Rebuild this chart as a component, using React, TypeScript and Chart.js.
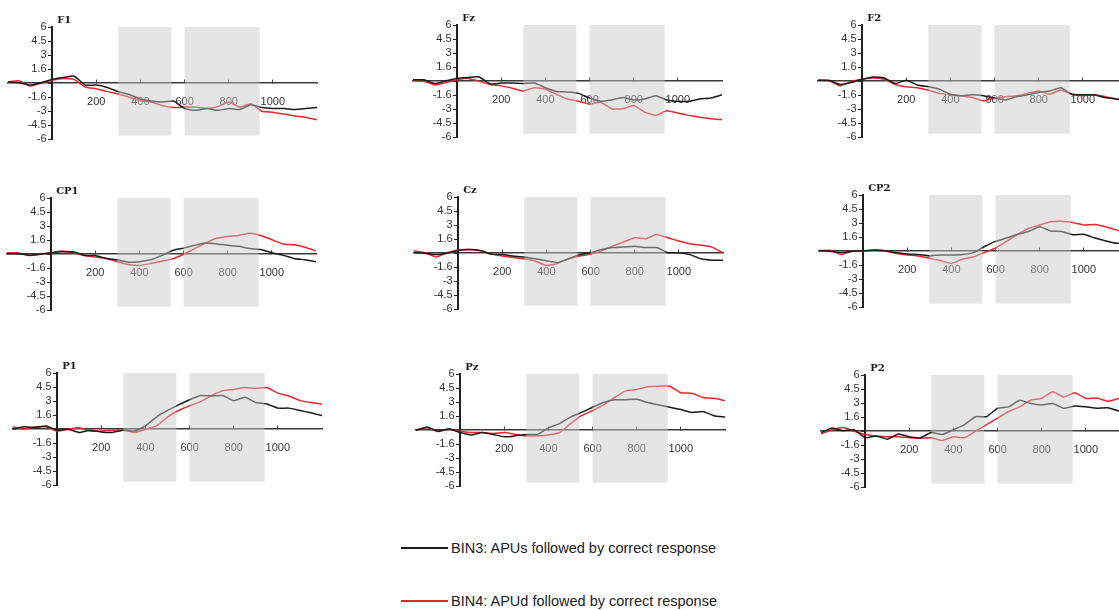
import React, { useEffect, useRef } from "react";
import { Chart, registerables } from "chart.js";

Chart.register(...registerables);

// ---------- DATA ----------
const times = [
  -200, -150, -100, -50, 0, 50, 100, 150, 200, 250, 300, 350, 400, 450, 500,
  550, 600, 650, 700, 750, 800, 850, 900, 950, 1000, 1050, 1100, 1150, 1200,
];

const seriesNames = [
  "BIN3: APUs followed by correct response",
  "BIN4: APUd followed by correct response",
];

const panelNames = ["F1", "Fz", "F2", "CP1", "Cz", "CP2", "P1", "Pz", "P2"];

const f1Bin3 = [0.1, 0.05, -0.2, 0.05, 0.4, 0.6, 0.75, -0.2, -0.2, -0.45, -0.9, -1.2, -1.7, -1.9, -2.0, -1.9, -2.7, -2.9, -2.7, -2.9, -2.7, -2.8, -2.3, -2.6, -2.7, -2.7, -2.8, -2.7, -2.6];
const f1Bin4 = [0.15, 0.25, -0.3, 0.0, 0.3, 0.5, 0.4, -0.4, -0.6, -0.9, -1.15, -1.5, -1.85, -2.0, -2.4, -2.6, -2.55, -2.55, -2.7, -2.5, -2.0, -2.55, -2.2, -3.0, -3.1, -3.3, -3.5, -3.65, -3.9];

const fzBin3 = [0.15, 0.15, -0.25, 0.05, 0.3, 0.4, 0.45, -0.3, -0.2, -0.2, -0.25, -0.2, -0.7, -1.1, -1.15, -1.3, -1.8, -2.15, -2.0, -1.75, -2.0, -1.9, -1.55, -2.0, -2.15, -2.15, -1.9, -1.8, -1.45];
const fzBin4 = [0.05, 0.0, -0.4, -0.15, 0.15, 0.3, 0.0, -0.35, -0.5, -0.75, -1.05, -0.7, -0.85, -1.4, -1.9, -2.15, -2.45, -2.25, -2.95, -2.95, -2.6, -3.3, -3.65, -3.15, -3.4, -3.65, -3.85, -4.0, -4.1];

const f2Bin3 = [0.1, 0.1, -0.35, -0.15, 0.2, 0.45, 0.35, -0.25, 0.1, -0.4, -0.6, -0.85, -1.4, -1.55, -1.45, -1.55, -1.8, -2.0, -1.65, -1.45, -1.2, -1.05, -0.7, -1.4, -1.45, -1.45, -1.75, -1.9, -2.1];
const f2Bin4 = [0.1, 0.05, -0.5, -0.05, 0.2, 0.35, 0.2, -0.35, -0.6, -0.7, -0.95, -1.3, -1.45, -1.55, -1.75, -2.1, -1.8, -1.65, -1.55, -1.3, -1.05, -1.4, -0.95, -1.4, -1.55, -1.45, -1.65, -1.9, -2.1];

const cp1Bin3 = [0.05, 0.05, -0.1, 0.0, 0.15, 0.25, 0.25, -0.1, -0.15, -0.45, -0.6, -0.85, -0.8, -0.6, -0.15, 0.4, 0.65, 0.95, 1.2, 1.1, 0.95, 0.85, 0.6, 0.5, 0.15, -0.1, -0.45, -0.6, -0.8];
const cp1Bin4 = [0.15, 0.15, -0.15, 0.0, 0.15, 0.35, 0.15, -0.15, -0.3, -0.45, -0.8, -1.1, -1.2, -1.0, -0.75, -0.5, 0.0, 0.6, 1.2, 1.7, 1.9, 2.0, 2.25, 2.0, 1.55, 1.1, 1.0, 0.75, 0.35];

const czBin3 = [0.05, 0.0, -0.15, 0.0, 0.3, 0.4, 0.3, -0.1, -0.15, -0.3, -0.4, -0.6, -0.8, -1.0, -0.6, -0.15, 0.05, 0.4, 0.6, 0.65, 0.75, 0.6, 0.6, 0.05, 0.05, -0.15, -0.6, -0.75, -0.75];
const czBin4 = [0.25, 0.05, -0.4, 0.05, 0.35, 0.4, 0.25, -0.1, -0.3, -0.45, -0.6, -0.85, -1.3, -1.1, -0.6, -0.3, -0.1, 0.25, 0.75, 1.2, 1.65, 1.55, 2.0, 1.65, 1.3, 1.0, 0.85, 0.65, 0.05];

const cp2Bin3 = [0.05, 0.0, -0.15, 0.0, 0.05, 0.1, 0.05, -0.15, -0.3, -0.35, -0.5, -0.4, -0.4, -0.35, -0.15, 0.5, 1.05, 1.4, 1.8, 2.1, 2.6, 2.15, 2.1, 1.75, 1.8, 1.4, 1.1, 0.85, 0.85];
const cp2Bin4 = [0.05, 0.1, -0.35, 0.0, 0.0, 0.15, 0.05, -0.25, -0.4, -0.5, -0.75, -1.0, -1.3, -0.85, -0.6, -0.15, 0.35, 1.05, 1.8, 2.45, 2.8, 3.15, 3.2, 3.05, 2.8, 2.85, 2.6, 2.25, 2.1];

const p1Bin3 = [0.0, 0.25, 0.15, 0.35, -0.1, 0.0, -0.35, -0.1, -0.3, -0.35, -0.1, -0.2, 0.35, 1.3, 2.0, 2.6, 3.15, 3.6, 3.55, 3.6, 3.05, 3.4, 2.85, 2.7, 2.25, 2.25, 2.0, 1.75, 1.45];
const p1Bin4 = [0.25, 0.0, 0.25, 0.25, -0.2, 0.0, 0.15, -0.2, -0.2, -0.1, -0.1, -0.35, 0.0, 0.35, 1.3, 2.0, 2.5, 2.95, 3.6, 4.1, 4.25, 4.45, 4.35, 4.45, 3.85, 3.55, 3.05, 2.85, 2.7];

const pzBin3 = [0.0, 0.35, -0.1, 0.15, -0.25, -0.5, -0.25, -0.45, -0.7, -0.6, -0.45, -0.45, 0.25, 0.7, 1.4, 1.9, 2.45, 2.95, 3.25, 3.25, 3.3, 2.95, 2.7, 2.45, 2.2, 1.9, 2.0, 1.55, 1.4];
const pzBin4 = [0.0, 0.25, -0.15, 0.1, -0.1, -0.25, -0.25, -0.35, -0.25, -0.45, -0.6, -0.6, -0.5, -0.25, 0.7, 1.55, 2.1, 2.7, 3.5, 4.2, 4.35, 4.65, 4.7, 4.7, 4.0, 3.95, 3.5, 3.4, 3.15];

const p2Bin3 = [-0.15, 0.35, 0.05, 0.15, -0.7, -0.5, -0.85, -0.3, -0.6, -0.7, -0.15, -0.35, 0.15, 0.7, 1.55, 1.55, 2.45, 2.6, 3.3, 2.95, 2.8, 2.95, 2.45, 2.7, 2.6, 2.45, 2.5, 2.15, 2.1];
const p2Bin4 = [-0.3, 0.15, 0.4, 0.0, -0.35, -0.5, -0.6, -0.6, -0.7, -0.75, -0.7, -1.0, -0.6, -0.7, 0.0, 0.7, 1.4, 2.1, 2.6, 3.3, 3.5, 4.2, 3.65, 4.1, 3.5, 3.55, 3.2, 3.5, 3.65];

const bin3Series = [f1Bin3, fzBin3, f2Bin3, cp1Bin3, czBin3, cp2Bin3, p1Bin3, pzBin3, p2Bin3];
const bin4Series = [f1Bin4, fzBin4, f2Bin4, cp1Bin4, czBin4, cp2Bin4, p1Bin4, pzBin4, p2Bin4];

const windowStarts = [300, 600];
const windowEnds = [540, 940];
const windowTop = 6;
const windowBottom = -5.6;

const xTickValues = [200, 400, 600, 800, 1000];
const xTickLabels = ["200", "400", "600", "800", "1000"];
const yTickValues = [-6, -4.5, -3, -1.5, 0, 1.5, 3, 4.5, 6];
const yTickLabels = ["-6", "-4.5", "-3", "-1.6", "", "1.6", "3", "4.5", "6"];

// ---------- LAYOUT ----------
const CANVAS_W = 317;
const CANVAS_H = 139;
const PAD = { top: 16, bottom: 8, left: 4, right: 4 };
const panelPos = [
  { left: 4, top: 11 },
  { left: 408.6, top: 8.5 },
  { left: 814.2, top: 8.5 },
  { left: 3.4, top: 181.5 },
  { left: 410.2, top: 181 },
  { left: 815.2, top: 179 },
  { left: 9.2, top: 357 },
  { left: 411.9, top: 357.5 },
  { left: 816.9, top: 358.5 },
];

const BLACK = "#1c1c1c";
const RED = "#e8262b";
const LABEL_GAP = "\u2002";

const decorPlugin = {
  id: "panelDecor",
  afterDatasetsDraw(chart: any, _args: any, opts: any) {
    const { ctx } = chart;
    const xs = chart.scales.x;
    const ys = chart.scales.y;
    ctx.save();
    ctx.fillStyle = "rgba(200,200,200,0.48)";
    const yA = ys.getPixelForValue(windowTop);
    const yB = ys.getPixelForValue(windowBottom);
    for (let i = 0; i < windowStarts.length; i++) {
      const xA = xs.getPixelForValue(windowStarts[i]);
      const xB = xs.getPixelForValue(windowEnds[i]);
      ctx.fillRect(xA, yA, xB - xA, yB - yA);
    }
    ctx.font = "bold 10px 'DejaVu Serif'";
    ctx.fillStyle = "#1a1a1a";
    ctx.textAlign = "left";
    ctx.textBaseline = "middle";
    ctx.fillText(opts.title, xs.getPixelForValue(0) + 5, ys.getPixelForValue(6) - 7);
    ctx.restore();
  },
};

function Panel({ index }: { index: number }) {
  const ref = useRef<HTMLCanvasElement | null>(null);
  useEffect(() => {
    if (!ref.current) return;
    const chart = new Chart(ref.current, {
      type: "line",
      data: {
        datasets: [
          {
            label: seriesNames[0],
            data: times.map((t, i) => ({ x: t, y: bin3Series[index][i] })),
            borderColor: BLACK,
            borderWidth: 1.5,
            pointRadius: 0,
            tension: 0.15,
          },
          {
            label: seriesNames[1],
            data: times.map((t, i) => ({ x: t, y: bin4Series[index][i] })),
            borderColor: RED,
            borderWidth: 1.5,
            pointRadius: 0,
            tension: 0.15,
          },
        ],
      },
      options: {
        animation: false,
        responsive: false,
        devicePixelRatio: 1,
        layout: { padding: PAD },
        plugins: {
          legend: { display: false },
          tooltip: { enabled: false },
          panelDecor: { title: panelNames[index] },
        } as any,
        scales: {
          x: {
            type: "linear",
            min: -200,
            max: 1200,
            position: { y: 0 } as any,
            afterBuildTicks: (s: any) => {
              s.ticks = xTickValues.map((v) => ({ value: v }));
            },
            ticks: {
              autoSkip: false,
              maxRotation: 0,
              padding: 16,
              color: "#333",
              font: { family: "'Liberation Sans', Arial", size: 11 },
              callback: (v: any) => {
                const i = xTickValues.indexOf(Number(v));
                return i >= 0 ? xTickLabels[i] : "";
              },
            },
            grid: {
              drawOnChartArea: false,
              drawTicks: true,
              tickLength: -4,
              color: "#444",
              lineWidth: 1,
            },
            border: { display: true, color: "#3a3a3a", width: 1.5 },
          },
          y: {
            type: "linear",
            min: -6,
            max: 6,
            position: { x: 0 } as any,
            afterBuildTicks: (s: any) => {
              s.ticks = yTickValues.map((v) => ({ value: v }));
            },
            ticks: {
              autoSkip: false,
              padding: 4,
              color: "#333",
              font: { family: "'Liberation Sans', Arial", size: 11 },
              callback: (v: any) => {
                const i = yTickValues.indexOf(Number(v));
                return i >= 0 && yTickLabels[i] ? yTickLabels[i] + LABEL_GAP : "";
              },
            },
            grid: {
              drawOnChartArea: false,
              drawTicks: true,
              tickLength: 3,
              color: "#222",
              lineWidth: 1,
            },
            border: { display: true, color: "#222", width: 2 },
          },
        },
      },
      plugins: [decorPlugin],
    });
    return () => chart.destroy();
  }, [index]);
  const p = panelPos[index];
  return (
    <canvas
      ref={ref}
      width={CANVAS_W}
      height={CANVAS_H}
      style={{ position: "absolute", left: p.left, top: p.top, width: CANVAS_W, height: CANVAS_H }}
    />
  );
}

function LegendRow({ color, text, top }: { color: string; text: string; top: number }) {
  return (
    <div style={{ position: "absolute", left: 401, top: top - 10, height: 20, display: "flex", alignItems: "center" }}>
      <div style={{ width: 47, height: 1.6, background: color }} />
      <span
        style={{
          marginLeft: 3,
          fontFamily: "'Liberation Sans', Arial, sans-serif",
          fontSize: 14.5,
          color: "#222",
          whiteSpace: "nowrap",
        }}
      >
        {text}
      </span>
    </div>
  );
}

export default function App() {
  return (
    <div
      style={{
        position: "fixed",
        left: 0,
        top: 0,
        width: 1119,
        height: 610,
        overflow: "hidden",
        background: "#fff",
      }}
    >
      {panelNames.map((_, i) => (
        <Panel key={i} index={i} />
      ))}
      <LegendRow color={BLACK} text={seriesNames[0]} top={548} />
      <LegendRow color={RED} text={seriesNames[1]} top={601} />
    </div>
  );
}
